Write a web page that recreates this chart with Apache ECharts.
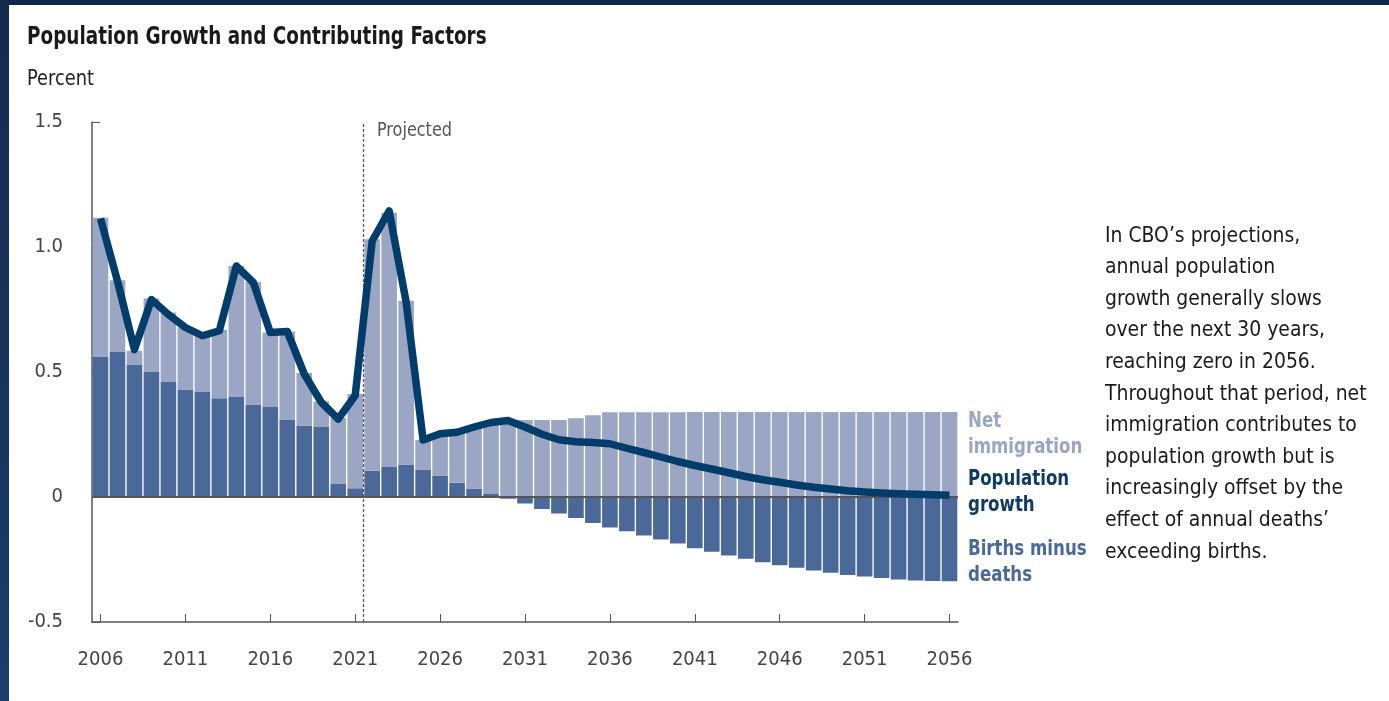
<!DOCTYPE html>
<html>
<head>
<meta charset="utf-8">
<script src="https://cdn.jsdelivr.net/npm/echarts@6/dist/echarts.min.js"></script>
<style>
  html, body { margin: 0; padding: 0; background: #ffffff; }
  #wrap { position: relative; width: 1389px; height: 701px; overflow: hidden; }
  #chart { position: absolute; left: 0; top: 0; width: 1389px; height: 701px; }
  #topbar { position: absolute; left: 0; top: 0; width: 1389px; height: 5px; background: #13264a; }
  #leftbar { position: absolute; left: 0; top: 0; width: 9px; height: 701px; background: linear-gradient(#132a4f, #1c3d6b); }
</style>
</head>
<body>
<div id="wrap">
  <div id="chart"></div>
  <div id="topbar"></div>
  <div id="leftbar"></div>
</div>
<script>
const years = [];
for (let y = 2006; y <= 2056; y++) years.push(String(y));

const birthsMinusDeaths = [
  0.560, 0.580, 0.530, 0.500, 0.460, 0.430, 0.420, 0.395, 0.400, 0.370,
  0.360, 0.310, 0.285, 0.280, 0.052, 0.035, 0.105, 0.120, 0.130, 0.110,
  0.086, 0.057, 0.034, 0.012, -0.007, -0.026, -0.048, -0.066, -0.084, -0.104,
  -0.122, -0.137, -0.154, -0.170, -0.186, -0.205, -0.219, -0.234, -0.247, -0.261,
  -0.273, -0.283, -0.294, -0.303, -0.312, -0.318, -0.324, -0.330, -0.334, -0.336,
  -0.337
];

const netImmigration = [
  0.557, 0.287, 0.055, 0.294, 0.278, 0.248, 0.229, 0.274, 0.524, 0.490,
  0.298, 0.352, 0.211, 0.102, 0.264, 0.377, 0.926, 1.017, 0.655, 0.118,
  0.169, 0.205, 0.248, 0.287, 0.308, 0.308, 0.308, 0.308, 0.315, 0.327,
  0.339, 0.339, 0.339, 0.339, 0.339, 0.340, 0.340, 0.340, 0.340, 0.340,
  0.340, 0.340, 0.340, 0.340, 0.340, 0.340, 0.340, 0.340, 0.340, 0.340,
  0.340
];

const populationGrowth = [
  1.114, 0.864, 0.590, 0.790, 0.730, 0.678, 0.645, 0.665, 0.924, 0.858,
  0.658, 0.662, 0.492, 0.379, 0.312, 0.406, 1.024, 1.144, 0.780, 0.228,
  0.253, 0.259, 0.280, 0.298, 0.306, 0.280, 0.251, 0.229, 0.221, 0.218,
  0.213, 0.195, 0.178, 0.160, 0.142, 0.126, 0.112, 0.097, 0.082, 0.069,
  0.059, 0.048, 0.039, 0.032, 0.025, 0.020, 0.016, 0.013, 0.011, 0.009,
  0.007
];

const yTicks = [-0.5, 0, 0.5, 1.0, 1.5];
const projectedStart = 2021.5;

const FONT = '"DejaVu Sans Condensed", "Liberation Sans Narrow", "Arial Narrow", Roboto, sans-serif';
const C_LIGHT = '#9ba6c4';
const C_DARK = '#4a6898';
const C_LINE = '#003d6b';
const C_AXIS = '#555555';
const C_TEXT = '#444444';

const noteLines = [
  'In CBO\u2019s projections,',
  'annual population',
  'growth generally slows',
  'over the next 30 years,',
  'reaching zero in 2056.',
  'Throughout that period, net',
  'immigration contributes to',
  'population growth but is',
  'increasingly offset by the',
  'effect of annual deaths\u2019',
  'exceeding births.'
];

const chart = echarts.init(document.getElementById('chart'), null, { renderer: 'canvas' });

function txt(x, y, text, font, fill, sx, lh) {
  return {
    type: 'text', x: x, y: y, scaleX: sx, scaleY: 1,
    style: { text: text, font: font, fill: fill, lineHeight: lh, textVerticalAlign: 'top' }
  };
}

const graphics = [
  txt(27, 26, 'Population Growth and Contributing Factors', 'bold 24px ' + FONT, '#1a1a1a', 0.853),
  txt(27, 68, 'Percent', '22px ' + FONT, '#222222', 0.9),
  txt(377, 122, 'Projected', '19px ' + FONT, '#555555', 0.94),
  txt(968, 408, 'Net\nimmigration', 'bold 22px ' + FONT, C_LIGHT, 0.84, 26),
  txt(968, 466, 'Population\ngrowth', 'bold 22px ' + FONT, '#0f3a63', 0.84, 26),
  txt(968, 536, 'Births minus\ndeaths', 'bold 22px ' + FONT, C_DARK, 0.84, 26),
  txt(1105, 220, noteLines.join('\n'), '22px ' + FONT, '#1a1a1a', 0.95, 31.6)
];

const option = {
  animation: false,
  backgroundColor: '#ffffff',
  textStyle: { fontFamily: FONT },
  grid: { left: 92, right: 431, top: 122, bottom: 79, containLabel: false },
  xAxis: [
    {
      type: 'category',
      data: years,
      boundaryGap: true,
      axisLine: { show: true, onZero: false, lineStyle: { color: C_AXIS, width: 1.5 } },
      axisTick: { show: true, inside: true, length: 8, alignWithLabel: true, interval: 4, lineStyle: { color: C_AXIS } },
      axisLabel: { interval: 4, margin: 28, color: C_TEXT, fontSize: 20, fontFamily: FONT },
      splitLine: { show: false }
    },
    {
      type: 'value',
      min: 2005.5,
      max: 2056.5,
      show: false
    }
  ],
  yAxis: {
    type: 'value',
    min: -0.5,
    max: 1.5,
    interval: 0.5,
    axisLine: { show: true, onZero: false, lineStyle: { color: C_AXIS, width: 1.5 } },
    axisTick: { show: true, inside: true, length: 8, lineStyle: { color: C_AXIS } },
    axisLabel: {
      margin: 29, color: C_TEXT, fontSize: 20, fontFamily: FONT,
      formatter: v => (v === 0 ? '0' : v.toFixed(1))
    },
    splitLine: { show: false }
  },
  graphic: graphics,
  series: [
    {
      name: 'Births minus deaths',
      type: 'bar',
      stack: 'total',
      data: birthsMinusDeaths,
      barCategoryGap: '8%',
      itemStyle: { color: C_DARK },
      z: 2
    },
    {
      name: 'Net immigration',
      type: 'bar',
      stack: 'total',
      data: netImmigration,
      barCategoryGap: '8%',
      itemStyle: { color: C_LIGHT },
      z: 2
    },
    {
      name: 'refs',
      type: 'line',
      xAxisIndex: 1,
      data: [],
      z: 3,
      silent: true,
      markLine: {
        silent: true,
        symbol: ['none', 'none'],
        label: { show: false },
        data: [
          { yAxis: 0, lineStyle: { color: C_AXIS, width: 2, type: 'solid' } },
          { xAxis: projectedStart, lineStyle: { color: '#555555', width: 1.2, type: [3, 2] } }
        ]
      }
    },
    {
      name: 'Population growth',
      type: 'line',
      data: populationGrowth,
      symbol: 'none',
      smooth: false,
      lineStyle: { color: C_LINE, width: 7.5, join: 'round', cap: 'butt' },
      z: 5
    }
  ]
};

chart.setOption(option);
</script>
</body>
</html>
